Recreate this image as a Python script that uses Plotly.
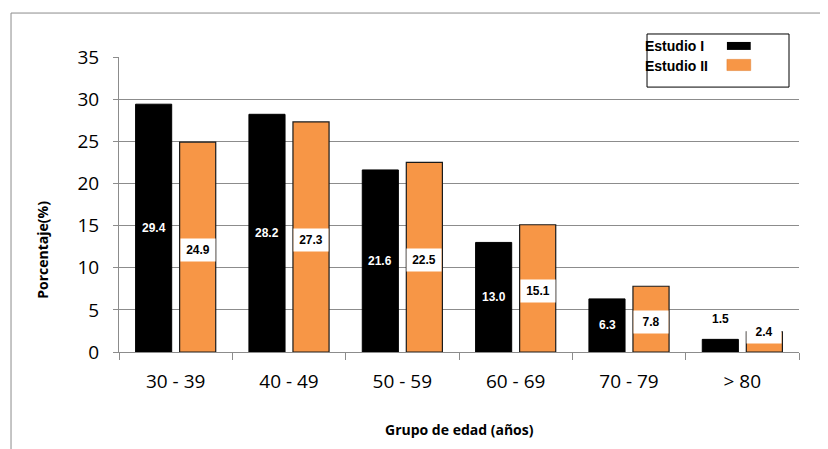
import plotly.graph_objects as go

categories = ["30 - 39", "40 - 49", "50 - 59", "60 - 69", "70 - 79", "> 80"]
estudio_1 = [29.4, 28.2, 21.6, 13.0, 6.3, 1.5]
estudio_2 = [24.9, 27.3, 22.5, 15.1, 7.8, 2.4]
series_names = ["Estudio I", "Estudio II"]
y_ticks = [0, 5, 10, 15, 20, 25, 30, 35]

BLACK = "#000000"
ORANGE = "#F79646"
GRID = "#8C8C8C"

fig = go.Figure()
fig.add_trace(go.Bar(x=categories, y=estudio_1, name=series_names[0],
                     marker=dict(color=BLACK, line=dict(color="#000000", width=1)),
                     showlegend=False))
fig.add_trace(go.Bar(x=categories, y=estudio_2, name=series_names[1],
                     marker=dict(color=ORANGE, line=dict(color="#1a1a1a", width=1.2)),
                     showlegend=False))

annotations = []
label_font = dict(family="Liberation Sans, Arial", size=12)
for cat, v in zip(categories, estudio_1):
    small = v < 3
    annotations.append(dict(
        x=cat, y=v if small else v / 2, xref="x", yref="y", xshift=-22,
        yshift=20 if small else 0, yanchor="middle", xanchor="center",
        text=f"<b>{v:.1f}</b>", showarrow=False,
        font=dict(label_font, color="#000000" if small else "#ffffff")))
for cat, v in zip(categories, estudio_2):
    small = v < 3
    annotations.append(dict(
        x=cat, y=v if small else v / 2, xref="x", yref="y", xshift=22,
        yshift=0 if small else -3, yanchor="middle", xanchor="center",
        text=f"<b>{v:.1f}</b>", showarrow=False, bgcolor="#ffffff",
        width=32, height=20,
        font=dict(label_font, color="#000000")))

# axis titles
annotations.append(dict(x=-0.112, y=0.346, xref="paper", yref="paper",
                        xanchor="center", yanchor="middle",
                        text="<b>Porcentaje(%)</b>", textangle=-90, showarrow=False,
                        font=dict(family="Open Sans", size=14, color="#000000")))
annotations.append(dict(x=0.501, y=-0.264, xref="paper", yref="paper",
                        xanchor="center", yanchor="middle",
                        text="<b>Grupo de edad (años)</b>", showarrow=False,
                        font=dict(family="Open Sans", size=14, color="#000000")))
# legend texts
annotations.append(dict(x=0.7706, y=1.037, xref="paper", yref="paper",
                        xanchor="left", yanchor="middle",
                        text="<b>Estudio I</b>", showarrow=False,
                        font=dict(family="Liberation Sans, Arial", size=14, color="#000000")))
annotations.append(dict(x=0.7706, y=0.9695, xref="paper", yref="paper",
                        xanchor="left", yanchor="middle",
                        text="<b>Estudio II</b>", showarrow=False,
                        font=dict(family="Liberation Sans, Arial", size=14, color="#000000")))

shapes = [
    # outer chart border
    dict(type="rect", xref="paper", yref="paper", x0=-0.1588, x1=1.3, y0=-0.6, y1=1.149,
         line=dict(color="#8C8C8C", width=1), fillcolor="rgba(0,0,0,0)", layer="below"),
    # legend box
    dict(type="rect", xref="paper", yref="paper", x0=0.7765, x1=0.9853, y0=0.898, y1=1.078,
         line=dict(color="#000000", width=1), fillcolor="#ffffff", layer="above"),
    dict(type="rect", xref="paper", yref="paper", x0=0.894, x1=0.929, y0=1.024, y1=1.051,
         line=dict(color="#000000", width=0), fillcolor=BLACK, layer="above"),
    dict(type="rect", xref="paper", yref="paper", x0=0.894, x1=0.929, y0=0.954, y1=0.992,
         line=dict(color="#E07E30", width=0.5), fillcolor=ORANGE, layer="above"),
]

fig.update_layout(
    width=820, height=441,
    margin=dict(l=111, r=29, t=49, b=97),
    paper_bgcolor="#ffffff", plot_bgcolor="#ffffff",
    barmode="group", bargap=0.223, bargroupgap=0.18,
    font=dict(family="Open Sans", color="#000000"),
    annotations=annotations, shapes=shapes,
    showlegend=False,
)
fig.update_xaxes(
    type="category", showgrid=False, showline=True, linecolor=GRID, linewidth=1,
    ticks="outside", tickson="boundaries", ticklen=7, tickcolor=GRID,
    ticklabelstandoff=12,
    tickfont=dict(family="Open Sans", size=19, color="#000000"),
)
fig.update_yaxes(
    range=[0, 35], tickvals=y_ticks, showgrid=True, gridcolor=GRID, gridwidth=1,
    showline=True, linecolor=GRID, linewidth=1, zeroline=False,
    ticks="outside", ticklen=5, tickcolor=GRID, ticklabelstandoff=10,
    tickfont=dict(family="Open Sans", size=19, color="#000000"),
)

fig.write_html("out.html")
